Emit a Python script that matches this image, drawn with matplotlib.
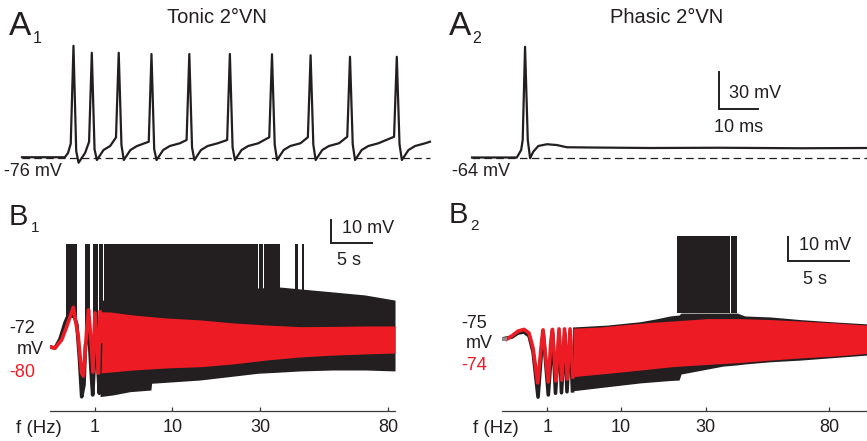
import numpy as np
import matplotlib
matplotlib.use("Agg")
import matplotlib.pyplot as plt

plt.rcParams['font.family'] = ['Liberation Sans', 'DejaVu Sans']

INK = '#231f20'
RED = '#ed1c24'

# ---- A1: tonic 2°VN, spike train (time in ms, membrane potential in mV)
a1_rest = -76
a1_onset_t = [0.0, 11.0, 11.8, 12.4]
a1_onset_v = [-75.8, -75.8, -72.4, -66.0]
a1_spike_t = [13.2, 17.9, 24.8, 33.2, 42.9, 53.3, 64.1, 74.0, 84.1, 96.1]
a1_peak_v = [13.4, 7.8, 7.8, 6.8, 6.8, 6.8, 6.6, 5.8, 4.6, 4.6]
a1_pre_v = [-64.8, -63.4, -60.0, -63.4, -62.0, -62.0, -59.8, -59.8, -59.4, -59.4]
a1_trough_v = [-80.2, -78.0, -78.0, -78.0, -78.0, -78.0, -78.0, -78.0, -78.0, -78.0]
a1_end_t, a1_end_v = 104.6, -63.4
# afterhyperpolarisation recovery relative to each spike (ms after peak, mV above trough)
ahp_dt = [3.0, 4.7, 7.3]
ahp_dv = [8.0, 11.2, 13.4]

# ---- A2: phasic 2°VN, single spike
a2_rest = -64
a2_t = [0.0, 11.5, 12.6, 13.0, 13.6, 14.3, 14.9, 15.7, 17.0, 19.2, 21.7, 24.3, 30.3, 45.6, 63.6, 84.1, 101.3]
a2_v = [-64.0, -64.0, -58.0, -50.0, 24.6, -50.0, -64.6, -59.4, -54.8, -53.4, -54.0, -55.8, -56.0, -56.4,
        -56.2, -56.6, -56.4]

# ---- B1: tonic ZAP response (time in s, deflection from rest in mV)
b1_freq_ticks = [1, 10, 30, 80]
b1_tick_t = [5.44, 14.79, 25.39, 40.91]
b1_red_t = [0.0, 0.60, 1.41, 2.02, 2.82, 3.42, 3.83, 4.05, 4.44, 4.66, 4.96, 5.20, 5.44, 5.68, 5.86, 6.05]
b1_red_v = [-0.1, -0.6, 2.9, 8.6, 16.9, 4.3, -11.3, -12.6, 7.2, 15.8, 2.9, -10.9, 14.5, 0.7, -11.3, 14.9]
b1_blk_t = [0.0, 0.60, 1.21, 1.81, 2.06, 2.78, 3.26, 3.57, 3.83, 4.11, 4.29, 4.72, 4.96, 5.16, 5.32,
            5.50, 5.74, 5.96, 6.11]
b1_blk_v = [-0.1, -0.6, 3.3, 10.2, 12.3, 14.9, 9.3, -5.7, -21.5, -16.4, 0.7, 5.0, -10.0, -20.7, -10.0,
            5.0, -5.7, -20.0, 0.7]
b1_red_band_t = [6.05, 7.26, 10.04, 14.15, 18.14, 22.13, 26.24, 30.23, 34.22, 38.09, 41.72]
b1_red_hi = [15.0, 14.9, 13.6, 12.3, 11.5, 10.2, 9.3, 8.6, 8.7, 8.9, 8.9]
b1_red_lo = [-11.3, -10.9, -10.0, -9.1, -8.6, -7.4, -5.7, -4.4, -3.6, -3.1, -2.7]
b1_blk_band_t = [6.05, 7.62, 9.67, 12.20, 12.29, 18.14, 25.15, 27.81, 30.23, 34.22, 38.09, 41.72]
b1_blk_hi = [20.0, 20.0, 20.9, 21.8, 21.8, 23.0, 25.2, 25.6, 24.8, 23.5, 22.2, 20.0]
b1_blk_lo = [-21.4, -20.7, -19.3, -18.6, -15.7, -14.3, -11.4, -10.9, -10.4, -10.0, -10.0, -10.4]
b1_spike_start = [1.93, 4.23, 5.24, 5.96, 6.57, 7.90, 8.50, 25.27, 25.88, 29.63, 30.47]
b1_spike_end = [3.23, 4.84, 5.77, 6.44, 7.82, 8.43, 25.11, 25.76, 27.81, 29.99, 30.77]
b1_spike_base = [12.3, 2.9, 0.7, 7.2, 11.5, 11.5, 12.0, 20.0, 20.0, 20.0, 20.0]
b1_spike_top = 44.1

# ---- B2: phasic ZAP response
b2_freq_ticks = [1, 10, 30, 80]
b2_tick_t = [3.74, 9.78, 16.72, 26.83]
b2_grey_t = [0.0, 0.41]
b2_grey_v = [0.0, 0.0]
b2_red_t = [0.41, 0.84, 1.34, 1.83, 2.24, 2.57, 2.95, 3.28, 3.39, 3.63, 3.82, 4.04, 4.16, 4.33, 4.45,
            4.70, 4.92, 5.15, 5.38, 5.60, 5.84]
b2_red_v = [-0.1, 1.3, 3.3, 4.0, 2.5, -3.8, -18.3, -0.8, 3.8, -8.8, -17.9, -0.4, 4.0, -8.8, -17.5,
            4.2, -17.1, 4.2, -16.7, 4.2, -15.8]
b2_blk_t = [0.0, 0.84, 1.34, 1.83, 2.24, 2.57, 2.98, 3.30, 3.41, 3.82, 4.18, 4.41, 4.71, 4.90, 5.17,
            5.35, 5.61, 5.80]
b2_blk_v = [0.0, 0.8, 2.5, 2.9, 1.3, -5.4, -24.2, -2.5, 2.5, -23.3, 2.5, -22.6, 2.5, -22.4, 2.5,
            -22.0, 2.5, -21.6]
b2_red_band_t = [5.84, 8.06, 9.70, 12.16, 14.04, 16.83, 19.53, 21.99, 24.45, 27.32, 29.94]
b2_red_hi = [4.5, 5.0, 5.8, 6.9, 7.5, 8.5, 8.5, 8.1, 7.5, 6.7, 5.8]
b2_red_lo = [-15.7, -14.6, -13.8, -12.5, -11.5, -10.6, -9.8, -8.8, -7.9, -7.1, -6.0]
b2_blk_band_t = [5.80, 8.64, 11.34, 12.57, 13.80, 14.54, 14.70, 18.14, 19.29, 19.94, 21.99, 24.45, 27.32, 29.94]
b2_blk_hi = [5.0, 5.8, 7.2, 8.3, 9.6, 10.0, 10.8, 10.8, 10.8, 9.6, 9.2, 8.1, 7.1, 6.3]
b2_blk_lo = [-21.6, -19.9, -18.3, -17.8, -17.3, -17.1, -14.6, -11.3, -10.8, -10.4, -9.5, -8.8, -7.7, -6.7]
b2_spike_start = [14.34, 18.80]
b2_spike_end = [18.74, 19.27]
b2_spike_base = [10.8, 10.8]
b2_spike_top = 43.0

W, H = 867, 441
fig = plt.figure(figsize=(W / 100, H / 100), dpi=100)


def panel_axes(box, x_ref, x_val, x_scale, y_ref, y_val, y_scale):
    # box in pixels (left, top, right, bottom); scales in pixels per data unit
    left, top, right, bottom = box
    ax = fig.add_axes([left / W, 1 - bottom / H, (right - left) / W, (bottom - top) / H])
    ax.set_xlim(x_val + (left - x_ref) / x_scale, x_val + (right - x_ref) / x_scale)
    ax.set_ylim(y_val - (bottom - y_ref) / y_scale, y_val + (y_ref - top) / y_scale)
    ax.patch.set_visible(False)
    return ax


def tonic_trace():
    t = list(a1_onset_t)
    v = list(a1_onset_v)
    n = len(a1_spike_t)
    for i, tp in enumerate(a1_spike_t):
        # upstroke, peak, downstroke, AHP trough
        t += [tp - 0.7, tp, tp + 0.7, tp + 1.3]
        v += [a1_pre_v[i], a1_peak_v[i], a1_pre_v[i] - 6, a1_trough_v[i]]
        t_next = a1_spike_t[i + 1] - 0.7 if i + 1 < n else a1_end_t
        for dt, dv in zip(ahp_dt, ahp_dv):
            if tp + dt < t_next - 0.6:
                t.append(tp + dt)
                v.append(a1_trough_v[i] + dv)
    t.append(a1_end_t)
    v.append(a1_end_v)
    return t, v


# ---------------- A1
ax = panel_axes((0, 30, 440, 185), 22, 0.0, 3.9, 157.5, a1_rest, 1.25)
ax.axis('off')
t, v = tonic_trace()
ax.plot(t, v, color=INK, lw=1.6, solid_joinstyle='round')
ax.plot([a1_onset_t[0], a1_end_t], [a1_rest, a1_rest], color=INK, lw=0.9, ls=(0, (6, 3.5)))
ax.text(-4.6, -90.8, '-76 mV', fontsize=13, color=INK, va='baseline')

# ---------------- A2
ax = panel_axes((440, 30, 867, 185), 472, 0.0, 3.9, 157.5, a2_rest, 1.25)
ax.axis('off')
ax.plot(a2_t, a2_v, color=INK, lw=1.6, solid_joinstyle='round')
ax.plot([a2_t[0], a2_t[-1]], [a2_rest, a2_rest], color=INK, lw=0.9, ls=(0, (6, 3.5)))
ax.text(-5.0, -78.8, '-64 mV', fontsize=13, color=INK, va='baseline')
# scale bar 30 mV / 10 ms
ax.plot([63.4, 63.4, 73.4], [4.6, -25.4, -25.4], color=INK, lw=1.4, solid_joinstyle='miter')
ax.text(65.9, -16.6, '30 mV', fontsize=13, color=INK, va='baseline')
ax.text(62.1, -43.4, '10 ms', fontsize=13, color=INK, va='baseline')


def zap_panel(ax, spans, blk_line, red_line, blk_band, red_band, ticks):
    starts, ends, bases, top = spans
    ax.bar(starts, [top - b for b in bases], width=np.subtract(ends, starts), bottom=bases,
           align='edge', color=INK, lw=0)
    ax.plot(*blk_line, color=INK, lw=2.6, solid_joinstyle='round')
    ax.fill_between(blk_band[0], blk_band[1], blk_band[2], color=INK, lw=0)
    ax.plot(*red_line, color=RED, lw=2.6, solid_joinstyle='round')
    ax.fill_between(red_band[0], red_band[1], red_band[2], color=RED, lw=0)
    for s in ['top', 'left', 'right']:
        ax.spines[s].set_visible(False)
    ax.spines['bottom'].set_color('#3a3a3a')
    ax.spines['bottom'].set_linewidth(0.9)
    ax.set_yticks([])
    ax.set_xticks(ticks[0])
    ax.set_xticklabels([str(f) for f in ticks[1]])
    ax.tick_params(axis='x', direction='in', length=3, width=0.9, color='#3a3a3a',
                   labelsize=13, labelcolor=INK, pad=6)


# ---------------- B1
ax = panel_axes((50, 200, 395, 410.7), 50, 0.0, 8.27, 346.7, 0.0, 2.33)
zap_panel(ax,
          (b1_spike_start, b1_spike_end, b1_spike_base, b1_spike_top),
          (b1_blk_t, b1_blk_v), (b1_red_t, b1_red_v),
          (b1_blk_band_t, b1_blk_hi, b1_blk_lo), (b1_red_band_t, b1_red_hi, b1_red_lo),
          (b1_tick_t, b1_freq_ticks))
ax.text(-1.81, 5.75, '-72', fontsize=13, color=INK, ha='right', va='baseline')
ax.text(-0.81, -3.26, 'mV', fontsize=13, color=INK, ha='right', va='baseline')
ax.text(-1.81, -12.9, '-80', fontsize=13, color=RED, ha='right', va='baseline')
ax.plot([33.98, 33.98, 38.98], [54.4, 44.4, 44.4], color=INK, lw=1.4, solid_joinstyle='miter', clip_on=False)
ax.text(35.27, 48.7, '10 mV', fontsize=13, color=INK, va='baseline')
ax.text(34.67, 35.1, '5 s', fontsize=13, color=INK, va='baseline')

# ---------------- B2
ax = panel_axes((501.7, 200, 867, 410.7), 501.7, 0.0, 12.2, 339, 0.0, 2.4)
zap_panel(ax,
          (b2_spike_start, b2_spike_end, b2_spike_base, b2_spike_top),
          (b2_blk_t, b2_blk_v), (b2_red_t, b2_red_v),
          (b2_blk_band_t, b2_blk_hi, b2_blk_lo), (b2_red_band_t, b2_red_hi, b2_red_lo),
          (b2_tick_t, b2_freq_ticks))
ax.plot(b2_grey_t, b2_grey_v, color='#8c8c8c', lw=2.6, solid_capstyle='butt')
ax.text(-1.23, 4.7, '-75', fontsize=13, color=INK, ha='right', va='baseline')
ax.text(-0.69, -3.9, 'mV', fontsize=13, color=INK, ha='right', va='baseline')
ax.text(-1.23, -12.9, '-74', fontsize=13, color=RED, ha='right', va='baseline')
ax.plot([23.49, 23.49, 28.49], [42.6, 32.6, 32.6], color=INK, lw=1.4, solid_joinstyle='miter', clip_on=False)
ax.text(24.37, 37.1, '10 mV', fontsize=13, color=INK, va='baseline')
ax.text(24.7, 22.9, '5 s', fontsize=13, color=INK, va='baseline')


def fig_text(x, y, s, **kw):
    fig.text(x / W, 1 - y / H, s, color=INK, va='baseline', **kw)


# titles, panel letters, frequency axis names
fig_text(217, 22.7, 'Tonic 2°VN', fontsize=14.5, ha='center')
fig_text(667, 22.7, 'Phasic 2°VN', fontsize=14.5, ha='center')
fig_text(9, 35, 'A', fontsize=24)
fig_text(32.5, 42.7, '1', fontsize=11.5)
fig_text(449, 35, 'A', fontsize=24)
fig_text(472.5, 42.7, '2', fontsize=11.5)
fig_text(9, 225, 'B', fontsize=21)
fig_text(30.5, 231.7, '1', fontsize=11)
fig_text(449, 223.3, 'B', fontsize=21)
fig_text(470, 230, '2', fontsize=11)
fig_text(39, 433.3, 'f (Hz)', fontsize=13.5, ha='center')
fig_text(496, 433.3, 'f (Hz)', fontsize=13.5, ha='center')

fig.savefig('out.png', dpi=100)
